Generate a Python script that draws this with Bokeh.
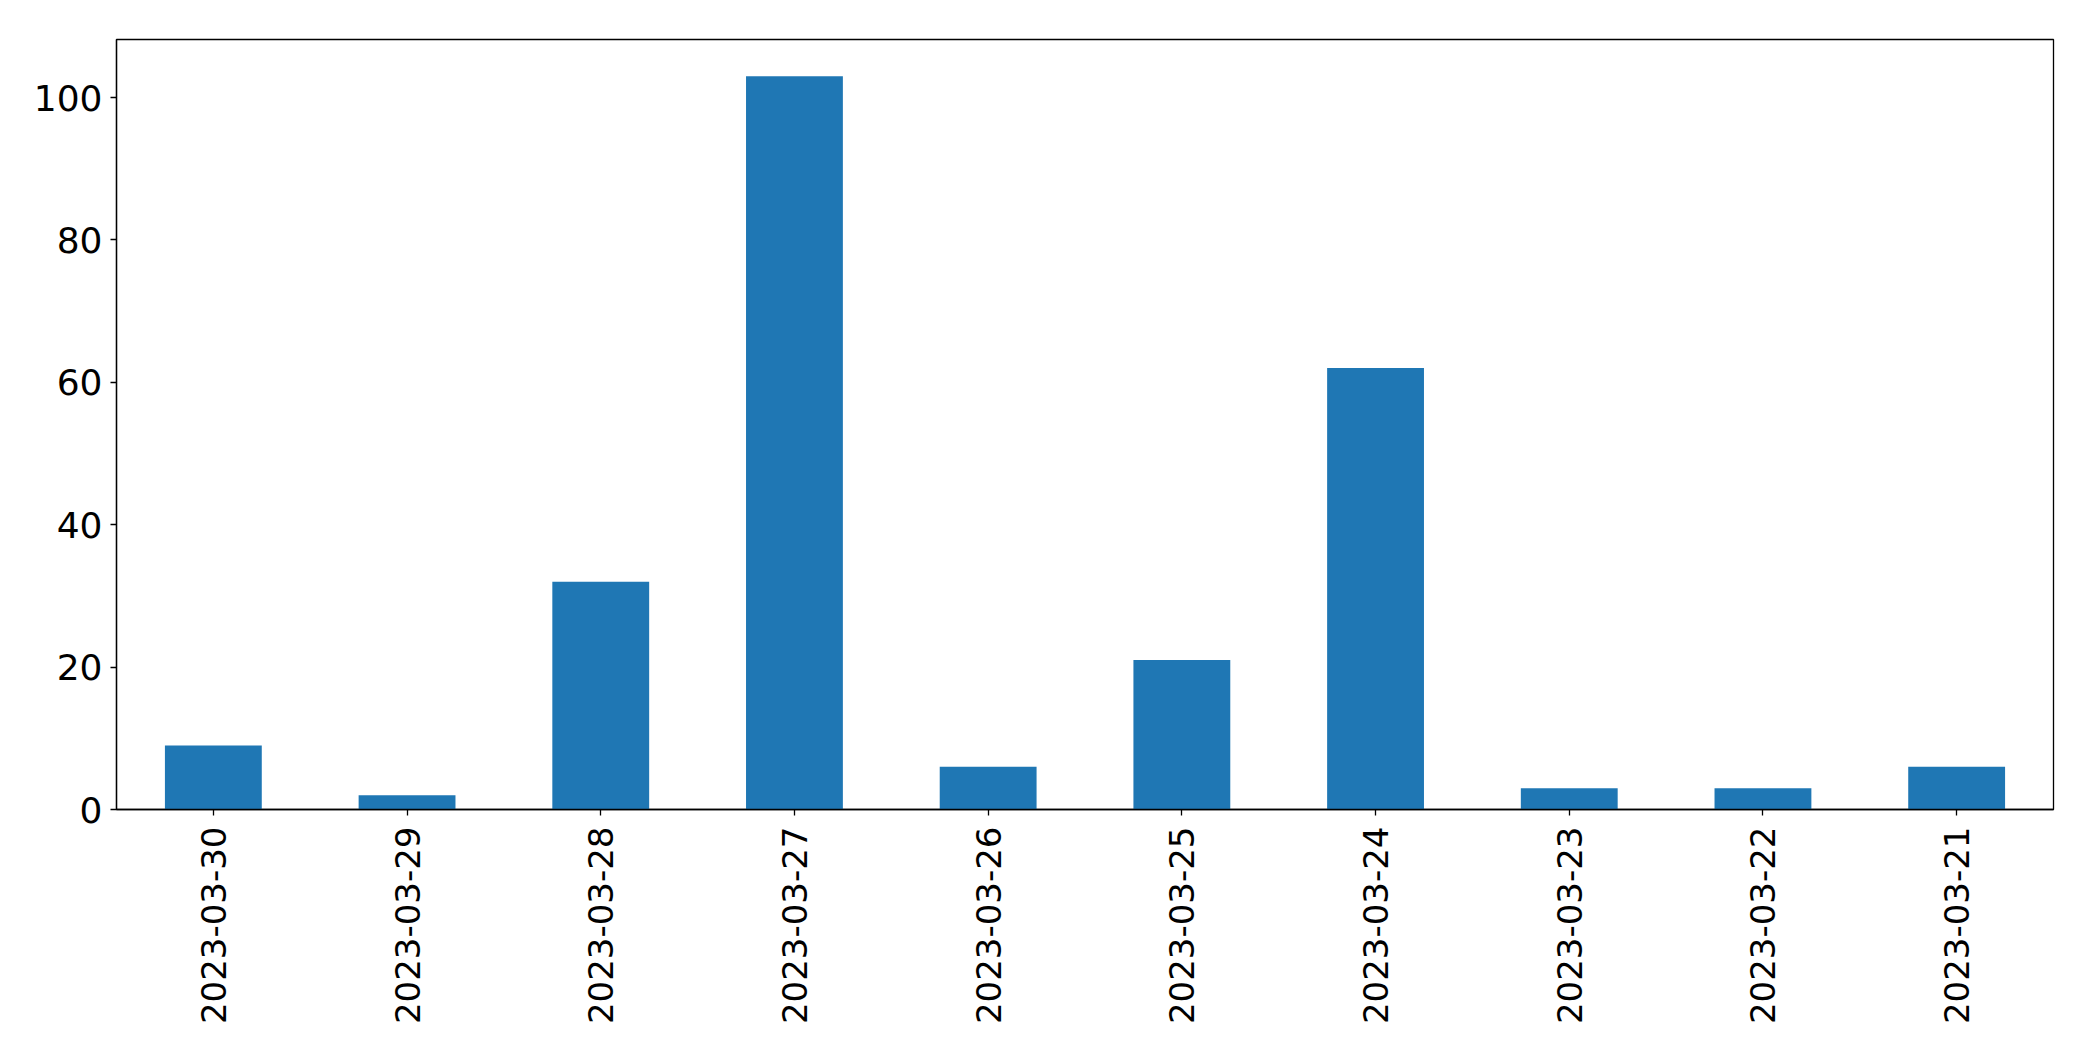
import math
from bokeh.plotting import figure
from bokeh.models import FactorRange, Range1d, FixedTicker, ColumnDataSource
from bokeh.embed import file_html
from bokeh.resources import INLINE

dates = ["2023-03-30", "2023-03-29", "2023-03-28", "2023-03-27", "2023-03-26",
         "2023-03-25", "2023-03-24", "2023-03-23", "2023-03-22", "2023-03-21"]
counts = [9, 2, 32, 103, 6, 21, 62, 3, 3, 6]
y_ticks = [0, 20, 40, 60, 80, 100]

source = ColumnDataSource(data=dict(date=dates, count=counts))

p = figure(
    x_range=FactorRange(*dates, range_padding=0),
    y_range=Range1d(0, max(counts) * 1.05),
    width=2077, height=1045,
    output_backend="svg", toolbar_location=None,
    min_border_left=116, min_border_top=39, min_border_right=24, min_border_bottom=236,
)

p.vbar(x="date", top="count", width=0.5, source=source,
       fill_color="#1f77b4", line_color=None)

p.xgrid.grid_line_color = None
p.ygrid.grid_line_color = None
p.outline_line_color = "black"
p.outline_line_width = 1.3
p.outline_line_alpha = 1.0

for ax in (p.xaxis[0], p.yaxis[0]):
    ax.axis_line_color = "black"
    ax.axis_line_width = 1.3
    ax.major_tick_line_color = "black"
    ax.major_tick_line_width = 1.3
    ax.major_tick_out = 6
    ax.major_tick_in = 0
    ax.minor_tick_line_color = None
    ax.major_label_text_font = "DejaVu Sans"
    ax.major_label_text_color = "black"

p.yaxis[0].major_label_text_font_size = "36px"
p.xaxis[0].major_label_text_font_size = "34px"
p.yaxis[0].ticker = FixedTicker(ticks=y_ticks)
p.yaxis[0].major_label_standoff = 8
p.xaxis[0].major_label_orientation = math.pi / 2
p.xaxis[0].major_label_standoff = 11
p.xaxis[0].group_text_font_size = "0px"

p.background_fill_color = "white"
p.border_fill_color = "white"

open("out.html", "w").write(file_html(p, INLINE))
